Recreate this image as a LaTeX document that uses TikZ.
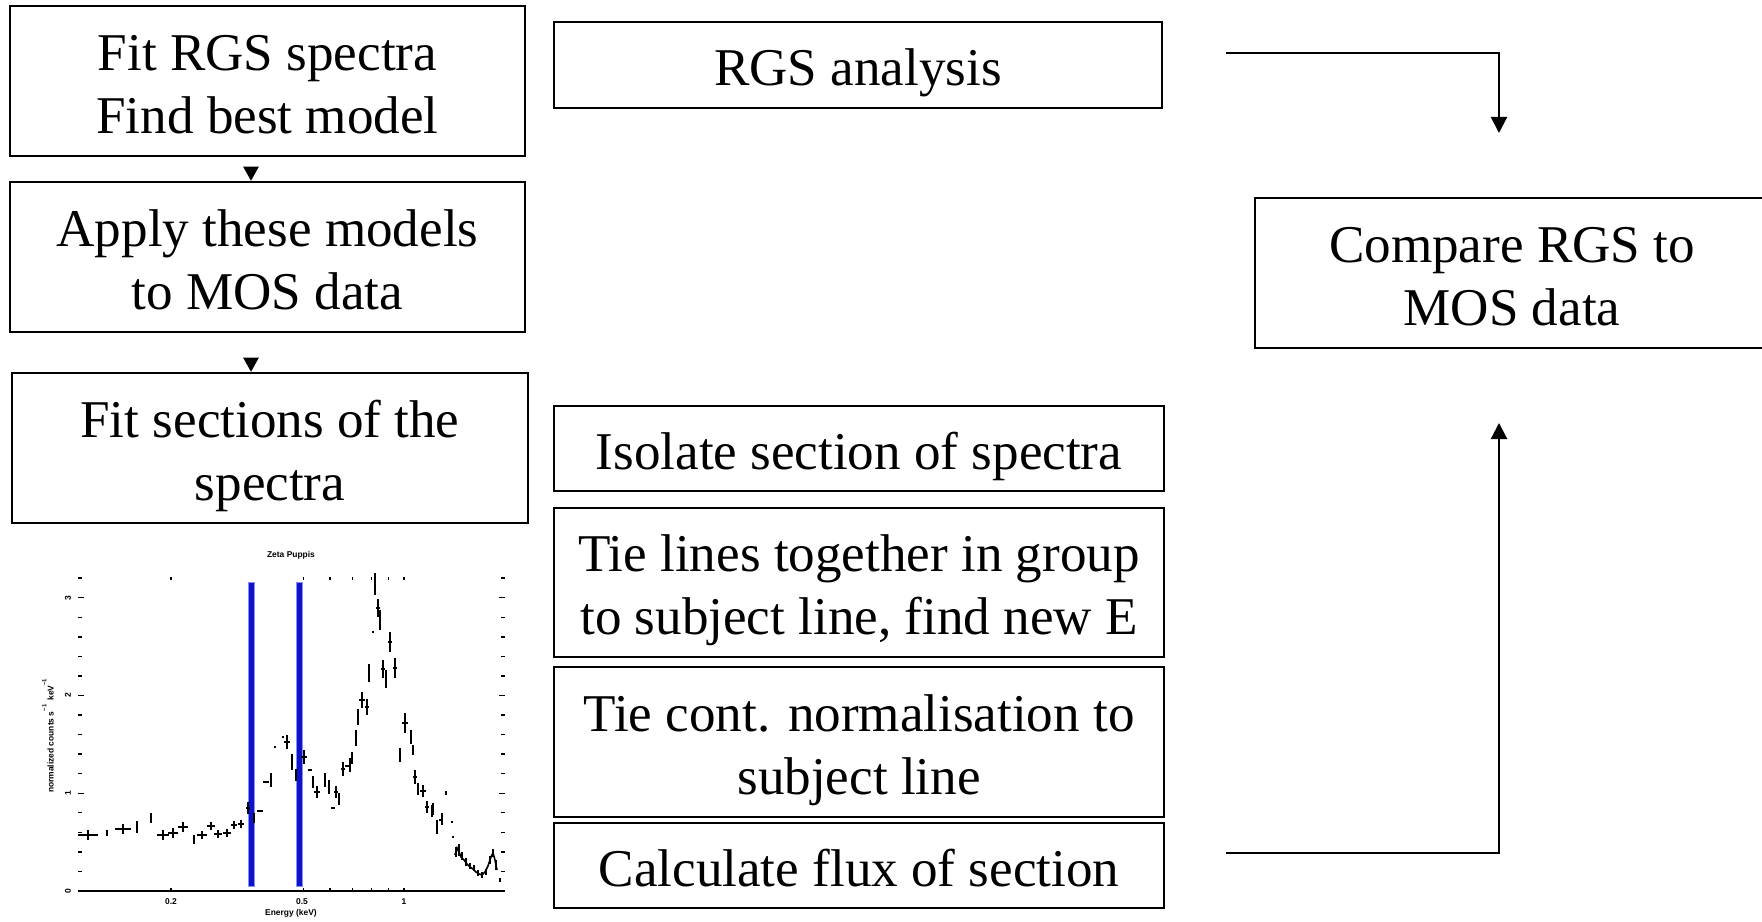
\documentclass[tikz,border=0pt]{standalone}
\usepackage{fontspec}
\setmainfont{Liberation Serif}
\newfontfamily\plotfont{Liberation Sans}
\usetikzlibrary{arrows.meta}
\definecolor{barblue}{RGB}{10,20,200}
\newcommand\topst{\rule{0pt}{17.1pt}}
\newcommand\botst{\rule[-5.4pt]{0pt}{5.4pt}}
\tikzset{
  box/.style={draw, line width=0.65pt, rectangle, inner sep=0pt, align=center,
    font=\fontsize{15.1}{17.9}\selectfont},
  bigarr/.style={line width=0.6pt, -{Triangle[width=4.6pt,length=4.6pt]}},
  smallarr/.style={line width=0.6pt, -{Triangle[width=4.3pt,length=4pt]}},
  plottxt/.style={inner sep=0pt, font=\plotfont\bfseries\fontsize{2.4}{2.8}\selectfont},
  dat/.style={line width=0.45pt},
  axis/.style={line width=0.4pt}
}
\begin{document}
\begin{tikzpicture}[x=0.01cm,y=-0.01cm]
\useasboundingbox (0,0) rectangle (1762,922);
\clip (0,0) rectangle (1762,922);
\fill[white] (0,0) rectangle (1762,922);

% left column
\node[box, minimum width=5.15cm, minimum height=1.50cm] (fit) at (267.5,81) {\topst Fit RGS spectra\\Find best model\botst};
\node[box, minimum width=5.15cm, minimum height=1.50cm] (apply) at (267.5,257) {\topst Apply these models\\to MOS data\botst};
\node[box, minimum width=5.16cm, minimum height=1.50cm] (sect) at (270,448) {\topst Fit sections of the\\spectra\botst};

% middle column
\node[box, minimum width=6.08cm, minimum height=0.86cm] (rgs) at (858,65) {\topst RGS analysis\botst};
\node[box, minimum width=6.10cm, minimum height=0.85cm] (iso) at (859,448.5) {\topst Isolate section of spectra\botst};
\node[box, minimum width=6.10cm, minimum height=1.49cm] (tiel) at (859,582.5) {\topst Tie lines together in group\\to subject line, find new E\botst};
\node[box, minimum width=6.10cm, minimum height=1.50cm] (tiec) at (859,742) {\topst Tie cont. normalisation to\\subject line\botst};
\node[box, minimum width=6.10cm, minimum height=0.85cm] (calc) at (859,865.5) {\topst Calculate flux of section\botst};

% right column
\node[box, minimum width=5.14cm, minimum height=1.50cm] (cmp) at (1512,273) {\topst Compare RGS to\\MOS data\botst};

% small arrows
\coordinate (ax) at (251,0);
\draw[smallarr, shorten <=0.11cm] (ax |- fit.south) -- (ax |- apply.north);
\draw[smallarr, shorten <=0.26cm] (ax |- apply.south) -- (ax |- sect.north);

% big arrows
\coordinate (rgsout) at (1226,53);
\coordinate (cmpin) at (1499,133);
\coordinate (calcout) at (1226,853);
\coordinate (cmpin2) at (1499,423);
\draw[bigarr] (rgsout) -| (cmpin);
\draw[bigarr] (calcout) -| (cmpin2);

% ---------- spectrum plot ----------
% blue bars
\fill[barblue, draw=blue!45, line width=0.2pt] (248,582) rectangle (254,886);
\fill[barblue, draw=blue!45, line width=0.2pt] (296,582) rectangle (302,886);

% axes
\draw[axis] (78,891) -- (505,891);
% y ticks (linear, minor every 0.2)
\foreach \k in {1,...,16} {
  \pgfmathsetmacro{\yy}{891-19.55*\k}
  \draw[axis] (78,\yy) -- (82,\yy);
  \draw[axis] (501,\yy) -- (505,\yy);
}
\foreach \k in {0,5,10,15} {
  \pgfmathsetmacro{\yy}{891-19.55*\k}
  \draw[axis] (78,\yy) -- (84,\yy);
  \draw[axis] (499,\yy) -- (505,\yy);
}
% x ticks (log)
\foreach \xx in {171,303.7,330.1,352.4,371.7,388.7,404} {
  \draw[axis] (\xx,891) -- (\xx,888);
  \draw[axis] (\xx,577) -- (\xx,580);
}
% labels
\node[plottxt] (ttl) at (291,555) {Zeta Puppis};
\node[plottxt] (xl1) at (171,902) {0.2};
\node[plottxt] (xl2) at (302,902) {0.5};
\node[plottxt] (xl3) at (404,902) {1};
\node[plottxt] (xlab) at (291,913) {Energy (keV)};
\node[plottxt, rotate=90] (ylab) at (48,735) {normalized counts s\textsuperscript{−1} keV\textsuperscript{−1}};
\node[plottxt, rotate=90] (yl0) at (68,891) {0};
\node[plottxt, rotate=90] (yl1) at (68,793.3) {1};
\node[plottxt, rotate=90] (yl2) at (68,695.5) {2};
\node[plottxt, rotate=90] (yl3) at (68,597.8) {3};

% data points: x/y/dx/dy
\foreach \x/\y/\dx/\dy in {
  88/835/10/5, 107/833/0.5/3, 123/829/8/5, 137/827/0/6, 151/818/1/5,
  163/835/6/5, 173/833/5/5, 183/827/5/5, 194/840/0/4.5, 202/835/5/4,
  211/826/4/4, 218/834/4/4, 227/833/4/4, 234/825/3/4, 241/824/3/4,
  248/808/2/6, 254/818/0/5, 260/811/3/0, 266/782/3/0, 271/780/0/7,
  275/747/1/1, 283/737/1/0, 287/742/3/7, 292/762/0/8, 296/775/0/6,
  304/757/3/7, 310/770/2/0, 313/782/0/6, 317/792/3/6, 325/780/0/7,
  329/787/0/7, 333/808/2/0, 336/792/2/6, 339/799/0/6, 343/769/2/7,
  348/766/3/0, 350/765/0/7, 352/758/0/6, 356/738/1/8, 358/717/0/8,
  362/700/3/8, 367/707/2/8, 369/673/1/9, 373/632/1/0, 375/584/0/11,
  378/608/2/9, 380/620/0/10, 383/669/2/9, 386/679/0/9, 390/642/2/10,
  395/668/2/10, 400/755/1/7, 405/723/3/10, 411/737/0/7, 413/750/1/5,
  415/777/2/7, 418/789/0/6, 423/791/3/6, 427/807/2/6, 432/811/0/6,
  433/809/1/6, 437/827/0/7, 440/820/1/0, 442/819/0/6, 446/793/1/2,
  452/822/1/0, 453/837/1/1,
  456/852/1/5, 459/850/1/6, 462/856/1/4, 466/862/1/4, 470/866/1/3,
  474/868/1/3, 478/873/1/3, 482/875/1/3, 486/872/1/3, 490/860/1/4,
  493/853/1/4, 496/865/1/5, 500/880/1/2}
{
  \draw[dat] (\x-\dx,\y) -- (\x+\dx,\y) (\x,\y-\dy) -- (\x,\y+\dy);
}
\draw[dat] (455,855) -- (457,848) -- (459,852) -- (461,857) -- (464,860) -- (467,864)
  -- (470,867) -- (473,869) -- (476,872) -- (479,874) -- (482,875) -- (485,872)
  -- (488,866) -- (491,857) -- (493,853) -- (495,860) -- (497,870);
\end{tikzpicture}
\end{document}
